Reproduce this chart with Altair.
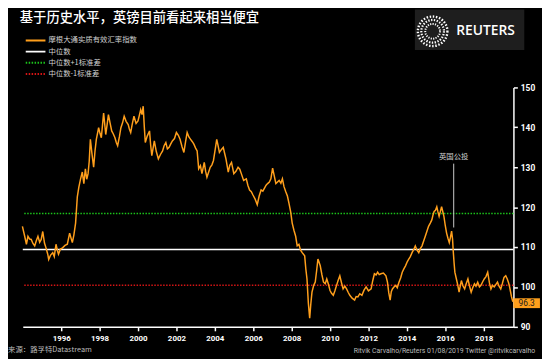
import altair as alt
import pandas as pd

# ---------------- data ----------------
years = [
    1993.98, 1994.10, 1994.19, 1994.27, 1994.36, 1994.44, 1994.53, 1994.62, 1994.70, 1994.79,
    1994.88, 1994.96, 1995.04, 1995.13, 1995.21, 1995.30, 1995.35, 1995.45, 1995.56, 1995.64,
    1995.73, 1995.80, 1995.86, 1995.96, 1996.07, 1996.20, 1996.32, 1996.44, 1996.51, 1996.58,
    1996.66, 1996.75, 1996.84, 1996.92, 1997.01, 1997.10, 1997.18, 1997.26, 1997.33, 1997.40,
    1997.46, 1997.52, 1997.60, 1997.69, 1997.76, 1997.83, 1997.95, 1998.02, 1998.09, 1998.15,
    1998.21, 1998.32, 1998.39, 1998.46, 1998.55, 1998.63, 1998.71, 1998.80, 1998.87, 1998.94,
    1999.03, 1999.11, 1999.20, 1999.28, 1999.38, 1999.49, 1999.55, 1999.62, 1999.70, 1999.79,
    1999.90, 2000.00, 2000.07, 2000.14, 2000.21, 2000.27, 2000.33, 2000.38, 2000.48, 2000.60,
    2000.66, 2000.72, 2000.85, 2000.95, 2001.06, 2001.17, 2001.28, 2001.36, 2001.45, 2001.53,
    2001.62, 2001.70, 2001.79, 2001.90, 2002.00, 2002.10, 2002.19, 2002.29, 2002.39, 2002.48,
    2002.56, 2002.65, 2002.74, 2002.83, 2002.91, 2003.00, 2003.08, 2003.16, 2003.25, 2003.33,
    2003.45, 2003.52, 2003.59, 2003.68, 2003.76, 2003.85, 2003.93, 2004.02, 2004.10, 2004.17,
    2004.24, 2004.34, 2004.44, 2004.51, 2004.58, 2004.70, 2004.78, 2004.87, 2004.99, 2005.10,
    2005.21, 2005.30, 2005.38, 2005.50, 2005.64, 2005.72, 2005.81, 2005.90, 2005.98, 2006.10,
    2006.21, 2006.31, 2006.41, 2006.50, 2006.58, 2006.67, 2006.75, 2006.84, 2006.92, 2007.01,
    2007.18, 2007.35, 2007.44, 2007.52, 2007.60, 2007.69, 2007.78, 2007.86, 2007.95, 2008.03,
    2008.12, 2008.21, 2008.29, 2008.38, 2008.46, 2008.55, 2008.68, 2008.74, 2008.80, 2008.87,
    2008.94, 2009.00, 2009.06, 2009.15, 2009.23, 2009.30, 2009.37, 2009.43, 2009.49, 2009.58,
    2009.66, 2009.75, 2009.83, 2009.92, 2010.00, 2010.08, 2010.17, 2010.25, 2010.34, 2010.42,
    2010.51, 2010.60, 2010.68, 2010.77, 2010.86, 2010.95, 2011.03, 2011.15, 2011.28, 2011.36,
    2011.45, 2011.55, 2011.66, 2011.77, 2011.88, 2012.00, 2012.14, 2012.22, 2012.31, 2012.40,
    2012.48, 2012.56, 2012.65, 2012.78, 2012.91, 2012.99, 2013.06, 2013.13, 2013.19, 2013.25,
    2013.33, 2013.42, 2013.50, 2013.59, 2013.68, 2013.76, 2013.85, 2013.93, 2014.02, 2014.10,
    2014.18, 2014.27, 2014.36, 2014.44, 2014.53, 2014.62, 2014.70, 2014.79, 2014.88, 2014.96,
    2015.05, 2015.13, 2015.22, 2015.30, 2015.36, 2015.42, 2015.49, 2015.56, 2015.62, 2015.68,
    2015.75, 2015.81, 2015.87, 2015.93, 2016.00, 2016.07, 2016.14, 2016.21, 2016.27, 2016.33,
    2016.38, 2016.41, 2016.46, 2016.50, 2016.58, 2016.65, 2016.72, 2016.78, 2016.84, 2016.92,
    2017.01, 2017.09, 2017.18, 2017.26, 2017.35, 2017.43, 2017.52, 2017.60, 2017.69, 2017.78,
    2017.86, 2017.95, 2018.03, 2018.12, 2018.21, 2018.30, 2018.38, 2018.46, 2018.55, 2018.63,
    2018.72, 2018.80, 2018.89, 2018.97, 2019.06, 2019.15, 2019.23, 2019.30, 2019.35, 2019.40,
    2019.45, 2019.52,
]
values = [
    115.2, 112.7, 110.7, 112.7, 112.0, 111.9, 110.9, 110.3, 111.5, 112.7,
    111.2, 111.9, 113.9, 111.0, 109.8, 108.2, 106.9, 108.0, 108.6, 107.6,
    110.7, 109.2, 108.2, 109.5, 109.8, 110.4, 110.7, 113.5, 112.3, 111.1,
    113.0, 116.0, 122.6, 125.0, 127.1, 128.8, 125.9, 129.6, 127.0, 128.4,
    131.5, 137.0, 133.5, 130.0, 134.0, 137.0, 139.9, 138.5, 137.4, 140.5,
    143.6, 138.2, 140.6, 143.2, 141.0, 139.1, 138.4, 137.4, 136.2, 135.4,
    137.6, 139.9, 141.2, 142.8, 141.5, 140.7, 139.6, 138.7, 140.8, 142.8,
    141.0, 141.6, 143.0, 144.4, 143.2, 145.3, 140.0, 136.2, 137.8, 139.1,
    135.5, 132.9, 136.6, 134.0, 132.1, 133.2, 134.1, 135.4, 136.2, 134.6,
    135.0, 135.8, 136.6, 137.2, 138.7, 138.0, 137.0, 135.2, 133.7, 136.5,
    138.7, 137.6, 137.0, 136.4, 135.8, 134.8, 134.1, 129.6, 130.4, 128.4,
    131.2, 129.0, 127.5, 128.8, 130.0, 130.6, 131.7, 134.5, 137.0, 135.4,
    133.7, 134.4, 135.0, 133.5, 132.1, 128.8, 130.5, 131.2, 128.4, 129.0,
    130.0, 129.5, 128.4, 126.7, 127.1, 125.5, 124.3, 123.9, 123.1, 122.0,
    120.6, 122.8, 124.3, 124.0, 124.7, 125.5, 125.9, 126.3, 127.1, 129.8,
    125.9, 126.7, 126.0, 127.1, 125.2, 123.9, 122.8, 121.0, 118.8, 116.0,
    114.2, 112.7, 110.3, 110.7, 109.3, 108.6, 107.8, 104.5, 102.0, 96.0,
    92.2, 95.8, 98.7, 100.4, 101.2, 104.0, 107.0, 106.2, 105.3, 103.0,
    101.2, 100.8, 102.0, 100.6, 99.1, 98.4, 97.9, 99.0, 100.4, 101.6,
    102.8, 101.0, 99.5, 100.2, 99.5, 98.6, 97.9, 97.2, 96.7, 97.6,
    97.5, 98.3, 97.9, 99.2, 100.0, 99.0, 99.5, 101.5, 103.3, 103.0,
    103.7, 103.1, 103.3, 103.5, 102.8, 101.2, 98.5, 96.7, 98.8, 99.5,
    100.0, 100.4, 99.8, 101.2, 102.3, 103.7, 104.6, 105.3, 106.3, 107.0,
    107.6, 108.6, 109.4, 110.3, 109.2, 108.6, 109.6, 110.3, 111.6, 112.7,
    114.0, 115.2, 116.0, 116.8, 118.0, 118.9, 119.2, 120.1, 118.8, 117.7,
    119.0, 120.1, 118.9, 117.7, 115.4, 113.5, 112.2, 111.1, 112.4, 114.0,
    112.0, 109.4, 106.0, 103.7, 102.0, 100.5, 98.7, 100.2, 101.6, 100.3,
    99.5, 100.8, 102.0, 100.3, 98.7, 99.8, 100.8, 100.2, 101.2, 100.0,
    100.4, 101.3, 102.0, 102.6, 103.7, 101.0, 99.5, 100.4, 100.0, 100.6,
    101.2, 100.2, 99.5, 100.8, 102.4, 102.8, 102.0, 101.0, 100.0, 98.8,
    97.5, 96.3,
]

median_value = 109.4
plus_one_sd = 118.4
minus_one_sd = 100.4

x_ticks = [1996, 1998, 2000, 2002, 2004, 2006, 2008, 2010, 2012, 2014, 2016, 2018]
y_ticks = [90, 100, 110, 120, 130, 140, 150]

title_text = "基于历史水平，英镑目前看起来相当便宜"
legend_labels = ["摩根大通实质有效汇率指数", "中位数", "中位数+1标准差", "中位数-1标准差"]
legend_colors = ["#FF9F1C", "#FFFFFF", "#1BC41B", "#D41515"]
legend_dashes = [[1, 0], [1, 0], [1.5, 1.5], [1.5, 1.5]]

annotation_text = "英国公投"
annotation_year = 2016.44
annotation_top = 130.9
annotation_bottom = 114.9
annotation_label_y = 132.6

last_label = "96.3"
source_text = "来源：路孚特Datastream"
credit_text = "Ritvik Carvalho/Reuters 01/08/2019 Twitter @ritvikcarvalho"
brand_text = "REUTERS"

ORANGE = legend_colors[0]
CJK = "Noto Sans CJK SC"
LAT = "Roboto"

W, H = 498, 243

df = pd.DataFrame({"year": years, "value": values})

x_enc = alt.X(
    "year:Q",
    scale=alt.Scale(domain=[1994.0, 2019.55], nice=False, zero=False),
    axis=alt.Axis(
        values=x_ticks, format="d", title=None, grid=False,
        domainColor="#FFFFFF", domainWidth=1.5, tickColor="#FFFFFF", tickWidth=1.5,
        tickSize=4, labelColor="#FFFFFF", labelFont=LAT, labelFontWeight="bold",
        labelFontSize=8, labelPadding=4,
    ),
)
y_enc = alt.Y(
    "value:Q",
    scale=alt.Scale(domain=[90, 150], nice=False, zero=False),
    axis=alt.Axis(
        orient="right", values=y_ticks, title=None, grid=False,
        domainColor="#FFFFFF", domainWidth=1.5, tickColor="#FFFFFF", tickWidth=1.5,
        tickSize=4, labelColor="#FFFFFF", labelFont=LAT, labelFontWeight="bold",
        labelFontSize=8.5, labelPadding=3,
    ),
)

line = alt.Chart(df).mark_line(color=ORANGE, strokeWidth=1.5).encode(x=x_enc, y=y_enc)


def hrule(v, color, dash, width):
    return alt.Chart(pd.DataFrame({"value": [v]})).mark_rule(
        color=color, strokeDash=dash, strokeWidth=width
    ).encode(y=alt.Y("value:Q"))


median_rule = hrule(median_value, legend_colors[1], legend_dashes[1], 1.5)
plus_rule = hrule(plus_one_sd, legend_colors[2], legend_dashes[2], 1.5)
minus_rule = hrule(minus_one_sd, legend_colors[3], legend_dashes[3], 1.5)

annot_df = pd.DataFrame({
    "year": [annotation_year], "top": [annotation_top], "bottom": [annotation_bottom],
    "label_y": [annotation_label_y], "label": [annotation_text],
})
annot_rule = alt.Chart(annot_df).mark_rule(color="#CCCCCC", strokeWidth=1).encode(
    x="year:Q", y="top:Q", y2="bottom:Q"
)
annot_text = alt.Chart(annot_df).mark_text(
    font=CJK, fontSize=7.5, color="#D0D0D0", align="center", baseline="middle"
).encode(x="year:Q", y="label_y:Q", text="label:N")

last_df = pd.DataFrame({"year": [years[-1]], "value": [values[-1]], "label": [last_label]})
badge = alt.Chart(last_df).mark_point(
    shape="M-1,-0.37L1,-0.37L1,0.37L-1,0.37Z", filled=True, size=729,
    color=ORANGE, opacity=1, xOffset=14, yOffset=1.5,
).encode(x="year:Q", y="value:Q")
badge_text = alt.Chart(last_df).mark_text(
    font=LAT, fontSize=8.5, color="#1A1A1A", align="center", baseline="middle",
    dx=14, dy=1.5,
).encode(x="year:Q", y="value:Q", text="label:N")

one = pd.DataFrame({"k": [0]})

title = alt.Chart(one).mark_text(
    text=title_text, font=CJK, fontSize=13.5, fontWeight=500, color="#FFFFFF",
    align="left", baseline="middle",
).encode(x=alt.value(-3), y=alt.value(-70.3))

legend_layers = []
for i, (lab, col, dash) in enumerate(zip(legend_labels, legend_colors, legend_dashes)):
    yy = -47.7 + i * 11.35
    legend_layers.append(
        alt.Chart(one).mark_rule(color=col, strokeDash=dash, strokeWidth=2).encode(
            x=alt.value(3), x2=alt.value(23), y=alt.value(yy)
        )
    )
    legend_layers.append(
        alt.Chart(one).mark_text(
            text=lab, font=CJK, fontSize=7.5, color="#D0D0D0", align="left", baseline="middle"
        ).encode(x=alt.value(26), y=alt.value(yy))
    )

brand_box = alt.Chart(one).mark_rect(color="#1E1E1E").encode(
    x=alt.value(398), x2=alt.value(509), y=alt.value(-79), y2=alt.value(-38)
)
rings = []
for sz, dash, sw in [(900, [1.5, 1.7], 2.4), (529, [1.4, 1.5], 2.2), (225, [1.2, 1.3], 2.0)]:
    rings.append(
        alt.Chart(one).mark_point(
            shape="circle", size=sz, color="#FFFFFF", strokeDash=dash, strokeWidth=sw, opacity=1
        ).encode(x=alt.value(416), y=alt.value(-57))
    )
brand = alt.Chart(one).mark_text(
    text=brand_text, font="Open Sans", fontSize=14, fontWeight=600, color="#FFFFFF",
    align="left", baseline="middle",
).encode(x=alt.value(440), y=alt.value(-57))

source = alt.Chart(one).mark_text(
    text=source_text, font=CJK, fontSize=7.5, color="#BBBBBB", align="left", baseline="bottom"
).encode(x=alt.value(-15), y=alt.value(271))
credit = alt.Chart(one).mark_text(
    text=credit_text, font=LAT, fontSize=7, color="#BBBBBB", align="right", baseline="bottom"
).encode(x=alt.value(520), y=alt.value(271))

chart = alt.layer(
    median_rule, plus_rule, minus_rule, line, annot_rule, annot_text, badge, badge_text,
    title, *legend_layers, brand_box, *rings, brand, source, credit,
).properties(
    width=W, height=H,
    padding={"left": 15, "top": 78, "right": 29, "bottom": 30},
    autosize=alt.AutoSizeParams(type="none"),
    background="#000000",
).configure_view(stroke=None)

chart.save("out.html", embed_options={"renderer": "svg", "actions": False})
